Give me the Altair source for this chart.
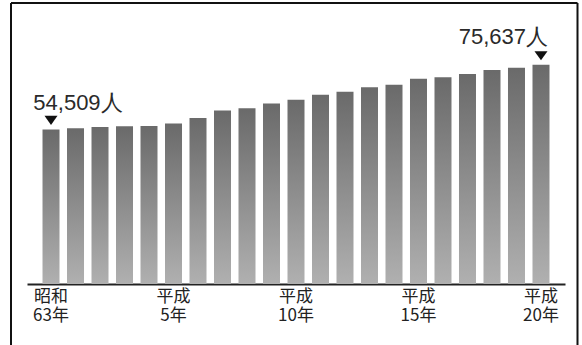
import altair as alt
import pandas as pd

# Fiscal years: Showa 63 through Heisei 20
eras = ["昭和63", "平成元", "平成2", "平成3", "平成4", "平成5", "平成6",
        "平成7", "平成8", "平成9", "平成10", "平成11", "平成12", "平成13",
        "平成14", "平成15", "平成16", "平成17", "平成18", "平成19", "平成20"]

# Number of people per year
people = [54509, 54870, 55290, 55520, 55620, 56430, 58230, 60680, 61400,
          62970, 64210, 65810, 66820, 68260, 69080, 71070, 71560, 72600,
          73910, 74660, 75637]

# Years whose value is called out above the bar
callouts = ["昭和63", "平成20"]
# Years shown on the axis
tick_years = ["昭和63", "平成5", "平成10", "平成15", "平成20"]

df = pd.DataFrame({"era": eras, "people": people})
df["label"] = [f"{v:,}人" for v in df["people"]]

x_enc = alt.X("era:O", sort=None,
              scale=alt.Scale(paddingInner=0.306, paddingOuter=0.633),
              axis=alt.Axis(
                  title=None, ticks=False, grid=False,
                  domainColor="#222222", domainWidth=2,
                  labelAngle=0, labelFont="Noto Sans CJK JP",
                  labelFontSize=17, labelColor="#222222",
                  labelLineHeight=19, labelBaseline="top",
                  labelPadding=4, labelOverlap=False, labelBound=False,
                  labelExpr="indexof(" + str(tick_years) + ", datum.value) >= 0 "
                            "? [slice(datum.value, 0, 2), slice(datum.value, 2) + '年'] : ''"))
y_enc = alt.Y("people:Q",
              scale=alt.Scale(domain=[4000, 96800], zero=False, clamp=True),
              axis=None)

base = alt.Chart(df)

bars = base.mark_bar(
    color=alt.Gradient(
        gradient="linear", x1=0, y1=0, x2=0, y2=1,
        stops=[alt.GradientStop(color="#6a6a6a", offset=0),
               alt.GradientStop(color="#b0b0b0", offset=1)]),
).encode(x=x_enc, y=y_enc, y2=alt.Y2Datum(4000))

marker = base.transform_filter(
    alt.FieldOneOfPredicate(field="era", oneOf=callouts)
).mark_point(
    shape="M-1,-0.7L1,-0.7L0,0.7Z", size=170, filled=True,
    color="#111111", opacity=1, yOffset=-9,
).encode(x=x_enc, y=y_enc)

first_label = base.transform_filter(
    alt.FieldEqualPredicate(field="era", equal=callouts[0])
).mark_text(
    align="left", baseline="alphabetic", dx=-17.7, dy=-19.5,
    font="Liberation Sans", fontSize=22, color="#2a2a2a",
).encode(x=x_enc, y=y_enc, text="label:N")

last_label = base.transform_filter(
    alt.FieldEqualPredicate(field="era", equal=callouts[1])
).mark_text(
    align="right", baseline="alphabetic", dx=7, dy=-21,
    font="Liberation Sans", fontSize=22, color="#2a2a2a",
).encode(x=x_enc, y=y_enc, text="label:N")

# Open frame around the figure (bottom edge runs off the page)
frame_src = alt.Data(values=[{}])
frame_left = alt.Chart(frame_src).mark_rule(color="#111111", strokeWidth=2).encode(
    x=alt.value(-16), y=alt.value(3), y2=alt.value(345))
frame_right = alt.Chart(frame_src).mark_rule(color="#111111", strokeWidth=2).encode(
    x=alt.value(550.5), y=alt.value(3), y2=alt.value(345))
frame_top = alt.Chart(frame_src).mark_rule(color="#111111", strokeWidth=2).encode(
    x=alt.value(-16), x2=alt.value(550.5), y=alt.value(3))

chart = alt.layer(
    bars, marker, first_label, last_label, frame_left, frame_right, frame_top
).properties(
    width=538, height=284,
    autosize=alt.AutoSizeParams(type="none"),
    padding={"left": 27, "top": 0, "right": 17, "bottom": 61},
    background="white",
).configure_view(stroke=None)

chart.save("out.html", embed_options={"renderer": "svg", "actions": False})
